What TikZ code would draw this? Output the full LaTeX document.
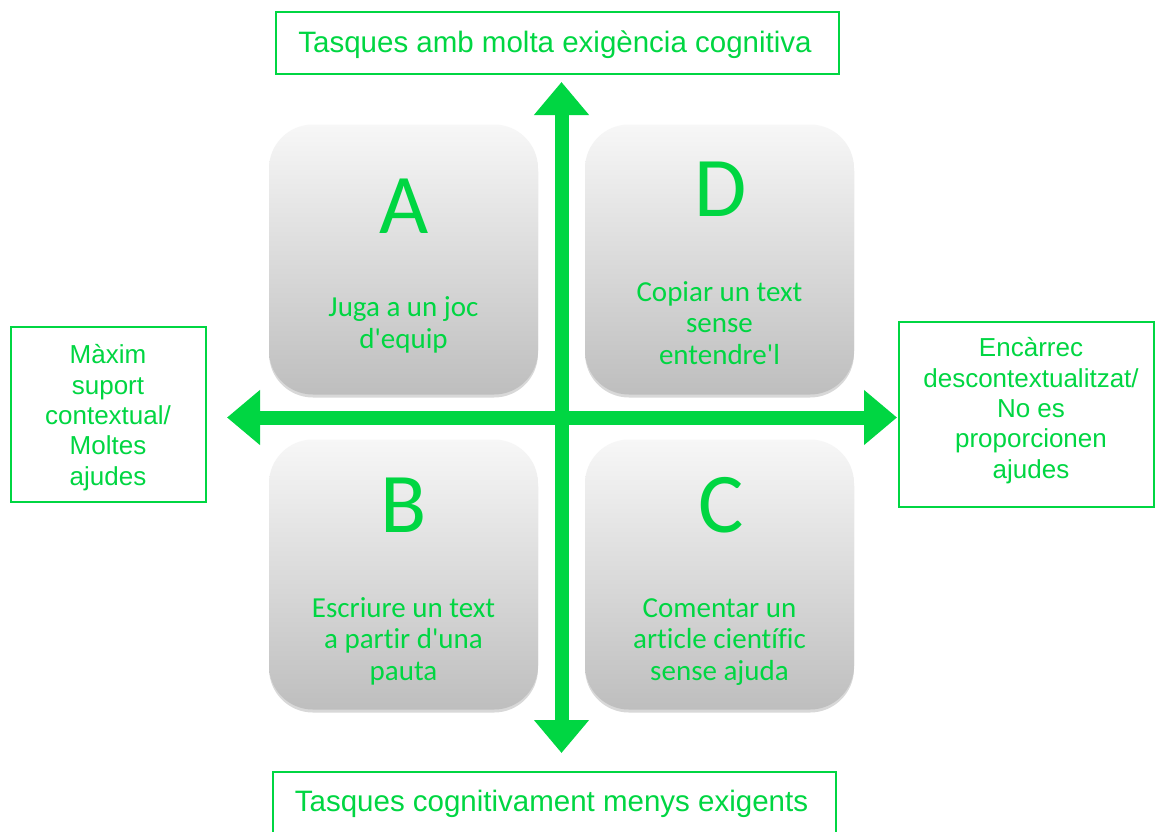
\documentclass[tikz,border=0pt]{standalone}
\usepackage{fontspec}
\setmainfont{Liberation Sans}
\newfontfamily\carl[Ligatures=NoCommon]{Carlito}
\usetikzlibrary{arrows.meta,shadows}
\definecolor{mygreen}{RGB}{0,214,66}
\definecolor{boxtop}{RGB}{247,247,247}
\definecolor{boxbot}{RGB}{190,190,190}
\tikzset{
  quad/.style={rounded corners=44pt, minimum width=269pt, minimum height=270pt,
    top color=boxtop, bottom color=boxbot, draw=none,
    drop shadow={shadow xshift=0pt, shadow yshift=-3pt, opacity=0.25, fill=black!60}},
  bigletter/.style={anchor=base, text=mygreen, inner sep=0pt, font=\carl\fontsize{85}{90}\selectfont},
  quadtext/.style={anchor=base, text=mygreen, inner sep=0pt, align=center, font=\carl\fontsize{29}{31.5}\selectfont},
  framebox/.style={draw=mygreen, line width=1.2pt, fill=white},
  sidetext/.style={anchor=base, text=mygreen, inner sep=0pt, align=center, font=\fontsize{26}{30.3}\selectfont},
  headtext/.style={anchor=base, text=mygreen, inner sep=0pt, font=\fontsize{29.5}{32}\selectfont},
  axis/.style={draw=mygreen, line width=14pt,
    {Triangle[width=53pt,length=33pt]}-{Triangle[width=53pt,length=33pt]}},
}
\begin{document}
\begin{tikzpicture}[x=1pt,y=-1pt]
\useasboundingbox[fill=white] (0,0) rectangle (1155,831);
% quadrants
\node[quad] (A) at (403.5,259.5) {};
\node[quad] (D) at (719.5,259.5) {};
\node[quad] (B) at (403.5,574.5) {};
\node[quad] (C) at (719.5,574.5) {};
\node[bigletter] (Al) at (404,233) {A};
\node[bigletter] (Dl) at (721,216) {D};
\node[bigletter] (Bl) at (404,532) {B};
\node[bigletter] (Cl) at (721,532) {C};
\node[quadtext] (At) at (403.5,348) {Juga a un joc\\d'equip};
\node[quadtext] (Dt) at (719.5,364) {Copiar un text\\sense\\entendre'l};
\node[quadtext] (Bt) at (403.5,680) {Escriure un text\\a partir d'una\\pauta};
\node[quadtext] (Ct) at (719.5,680) {Comentar un\\article científic\\sense ajuda};
% axes
\coordinate (vt) at (561.5,82);
\coordinate (vb) at (561.5,753);
\coordinate (hl) at (227,417.5);
\coordinate (hr) at (897,417.5);
\draw[axis] (vb) -- (vt);
\draw[axis] (hl) -- (hr);
% side boxes
\node[framebox, minimum width=563pt, minimum height=62pt] (top) at (557.5,43) {};
\node[headtext] (toptext) at (555,52) {Tasques amb molta exigència cognitiva};
\node[framebox, minimum width=563pt, minimum height=80pt] (bot) at (554.5,812) {};
\node[headtext] (bottext) at (551.5,811) {Tasques cognitivament menys exigents};
\node[framebox, minimum width=195pt, minimum height=175pt] (left) at (108.5,414.5) {};
\node[sidetext] (lefttext) at (108,485) {Màxim\\suport\\contextual/\\Moltes\\ajudes};
\node[framebox, minimum width=255pt, minimum height=185pt] (right) at (1026.5,414.5) {};
\node[sidetext] (righttext) at (1031,478) {Encàrrec\\descontextualitzat/\\No es\\proporcionen\\ajudes};
\end{tikzpicture}
\end{document}
